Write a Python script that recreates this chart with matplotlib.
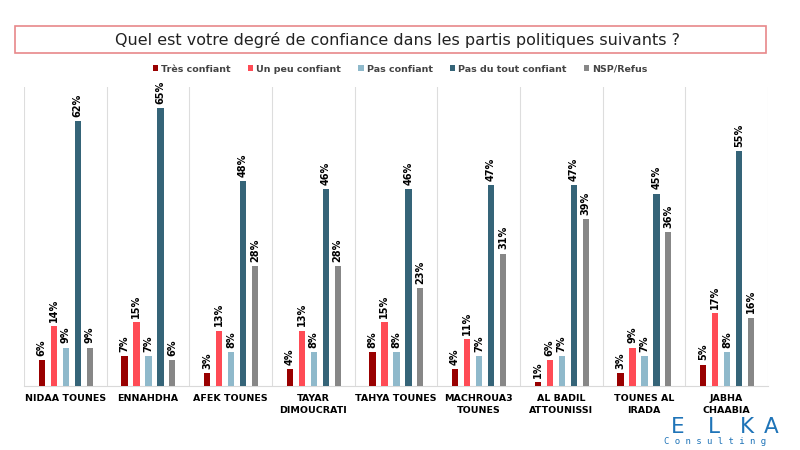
import numpy as np
import matplotlib.pyplot as plt
from matplotlib.patches import Rectangle

partis = ['NIDAA TOUNES', 'ENNAHDHA', 'AFEK TOUNES', 'TAYAR\nDIMOUCRATI', 'TAHYA TOUNES',
          'MACHROUA3\nTOUNES', 'AL BADIL\nATTOUNISSI', 'TOUNES AL\nIRADA', 'JABHA\nCHAABIA']
series = ['Très confiant', 'Un peu confiant', 'Pas confiant', 'Pas du tout confiant', 'NSP/Refus']
tres_confiant = [6, 7, 3, 4, 8, 4, 1, 3, 5]
un_peu = [14, 15, 13, 13, 15, 11, 6, 9, 17]
pas_confiant = [9, 7, 8, 8, 8, 7, 7, 7, 8]
pas_du_tout = [62, 65, 48, 46, 46, 47, 47, 45, 55]
nsp = [9, 6, 28, 28, 23, 31, 39, 36, 16]
valeurs = [tres_confiant, un_peu, pas_confiant, pas_du_tout, nsp]
couleurs = ['#990000', '#ff4b55', '#8fb9cb', '#356478', '#878787']

fig = plt.figure(figsize=(8, 4.5), dpi=100)
ax = fig.add_axes([0.03, 0.142, 0.93, 0.665])

x = np.arange(len(partis))
w = 0.075
step = 0.145
for i, (vals, c) in enumerate(zip(valeurs, couleurs)):
    pos = x + (i - 2) * step + 0.005
    ax.bar(pos, vals, width=w, color=c, label=series[i], zorder=3)
    for p, v in zip(pos, vals):
        ax.text(p, v + 1, f'{v}%', rotation=90, ha='center', va='bottom',
                fontsize=7, fontweight='bold', zorder=4)

ax.set_xlim(-0.5, len(partis) - 0.5)
ax.set_ylim(0, 70)
for b in np.arange(-0.5, len(partis), 1):
    ax.axvline(b, color='#dddddd', lw=0.8, zorder=1)
ax.set_yticks([])
ax.set_xticks(x)
ax.set_xticklabels(partis, fontsize=6.8, fontweight='bold', linespacing=1.3)
ax.tick_params(axis='x', length=0, pad=6)
for s in ['top', 'left', 'right']:
    ax.spines[s].set_visible(False)
ax.spines['bottom'].set_color('#d9d9d9')

# titre encadré
fig.patches.append(Rectangle((15 / 800, 1 - 53 / 450), 751 / 800, 27 / 450,
                             transform=fig.transFigure, fill=False,
                             edgecolor='#e8888a', lw=1.2))
fig.text(0.497, 1 - 40 / 450, 'Quel est votre degré de confiance dans les partis politiques suivants ?',
         ha='center', va='center', fontsize=11.5, color='#222222')

leg = fig.legend(loc='center', bbox_to_anchor=(0.5, 1 - 69 / 450), ncol=5, frameon=False,
                 fontsize=6.8, handlelength=0.6, handleheight=0.6, columnspacing=1.8,
                 handletextpad=0.3)
for t in leg.get_texts():
    t.set_fontweight('bold')
    t.set_color('#444444')

# logo
bleu = '#1f74b8'
for lettre, px in zip('ELKA', [678, 714, 747, 771]):
    fig.text(px / 800, 1 - 427 / 450, lettre, ha='center', va='center', fontsize=15.5,
             color=bleu, family='DejaVu Sans')
fig.text(715 / 800, 1 - 442 / 450, 'C o n s u l t i n g', ha='center', va='center',
         fontsize=6.5, color=bleu, family='DejaVu Sans Mono')

fig.savefig('out.png', dpi=100)
